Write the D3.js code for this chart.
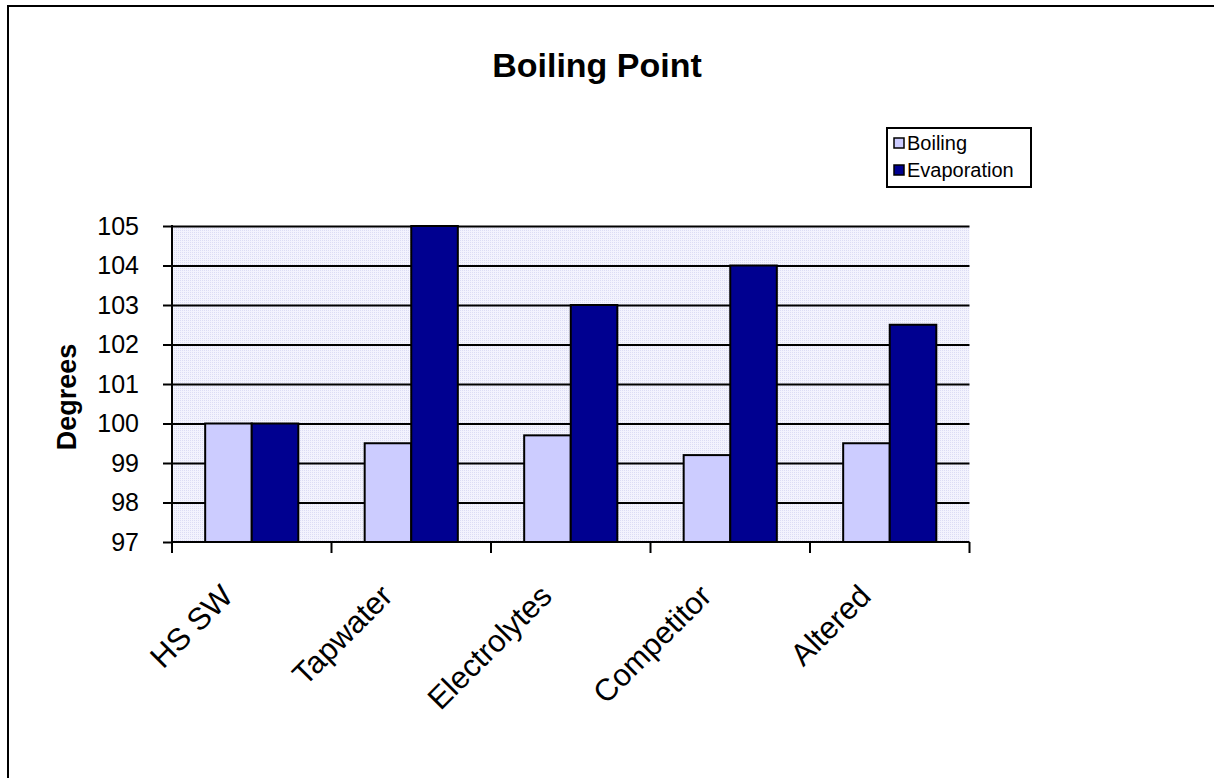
<!DOCTYPE html>
<html>
<head>
<meta charset="utf-8">
<script src="https://cdn.jsdelivr.net/npm/d3@7"></script>
<style>
  html, body { margin: 0; padding: 0; background: #fff; }
  svg { display: block; font-family: Arial, "Liberation Sans", sans-serif; }
</style>
</head>
<body>
<div id="chart"></div>
<script>
// --- Chart data ---
const categories = ["HS SW", "Tapwater", "Electrolytes", "Competitor", "Altered"];
const seriesNames = ["Boiling", "Evaporation"];
const boilingValues = [100, 99.5, 99.7, 99.2, 99.5];
const evaporationValues = [100, 105, 103, 104, 102.5];
const yTicks = [97, 98, 99, 100, 101, 102, 103, 104, 105];
const seriesColors = ["#ccccff", "#000090"];

// one row per category for the grouped bars
const rows = categories.map((c, i) => ({
  category: c,
  values: [boilingValues[i], evaporationValues[i]]
}));

const width = 1214;
const height = 778;

const svg = d3.select("#chart")
  .append("svg")
  .attr("width", width)
  .attr("height", height);

// outer frame (only top and left edges fall inside the picture)
svg.append("path")
  .attr("d", `M8,${height + 5}V6H${width + 5}`)
  .attr("fill", "none")
  .attr("stroke", "#000")
  .attr("stroke-width", 2);

// --- Plot area & scales ---
const plot = { left: 172, right: 969.5, top: 226, bottom: 542 };

const x0 = d3.scaleBand()
  .domain(categories)
  .range([plot.left, plot.right])
  .paddingInner(0.416)
  .paddingOuter(0.208);

const x1 = d3.scaleBand()
  .domain(seriesNames)
  .range([0, x0.bandwidth()]);

const y = d3.scaleLinear()
  .domain([97, 105])
  .range([plot.bottom, plot.top]);

// dotted lavender background like the original
const defs = svg.append("defs");
const pat = defs.append("pattern")
  .attr("id", "dots")
  .attr("width", 2)
  .attr("height", 2)
  .attr("patternUnits", "userSpaceOnUse");
pat.append("rect").attr("width", 2).attr("height", 2).attr("fill", "#f3f3fd");
pat.append("rect").attr("width", 1).attr("height", 1).attr("fill", "#dcdcf4");

svg.append("rect")
  .attr("x", plot.left)
  .attr("y", plot.top)
  .attr("width", plot.right - plot.left)
  .attr("height", plot.bottom - plot.top)
  .attr("fill", "url(#dots)");

// --- Gridlines ---
svg.append("g")
  .attr("class", "gridlines")
  .attr("transform", `translate(${plot.left},0)`)
  .call(d3.axisLeft(y).tickValues(yTicks.slice(1)).tickFormat("")
    .tickSize(-(plot.right - plot.left)).tickSizeOuter(0))
  .call(g => g.select(".domain").remove())
  .call(g => g.selectAll("line").attr("stroke", "#000").attr("stroke-width", 2));

// --- Bars ---
svg.append("g")
  .selectAll("g")
  .data(rows)
  .join("g")
  .attr("transform", d => `translate(${x0(d.category)},0)`)
  .selectAll("rect")
  .data(d => d.values.map((v, i) => ({ key: seriesNames[i], value: v, i })))
  .join("rect")
  .attr("x", d => x1(d.key))
  .attr("y", d => y(d.value))
  .attr("width", x1.bandwidth())
  .attr("height", d => y(97) - y(d.value))
  .attr("fill", d => seriesColors[d.i])
  .attr("stroke", "#000")
  .attr("stroke-width", 2);

// --- Y axis ---
const yAxis = svg.append("g")
  .attr("transform", `translate(${plot.left},0)`)
  .call(d3.axisLeft(y).tickValues(yTicks).tickSize(9).tickPadding(24).tickSizeOuter(0));
yAxis.select(".domain").remove();
yAxis.selectAll("line").attr("stroke", "#000").attr("stroke-width", 2);
yAxis.selectAll("text")
  .attr("font-size", 25)
  .attr("font-family", "Arial, 'Liberation Sans', sans-serif")
  .attr("fill", "#000");

svg.append("line")
  .attr("x1", plot.left).attr("x2", plot.left)
  .attr("y1", plot.top - 1).attr("y2", plot.bottom + 11)
  .attr("stroke", "#000").attr("stroke-width", 2);

// --- X axis: ticks at category boundaries ---
const boundaries = categories.map(c => x0(c) - x0.step() * x0.paddingOuter());
boundaries.push(plot.right);

svg.append("line")
  .attr("x1", plot.left).attr("x2", plot.right)
  .attr("y1", plot.bottom).attr("y2", plot.bottom)
  .attr("stroke", "#000").attr("stroke-width", 2);

svg.append("g")
  .selectAll("line")
  .data(boundaries)
  .join("line")
  .attr("x1", d => d).attr("x2", d => d)
  .attr("y1", plot.bottom).attr("y2", plot.bottom + 11)
  .attr("stroke", "#000").attr("stroke-width", 2);

// rotated category labels
svg.append("g")
  .selectAll("text")
  .data(categories)
  .join("text")
  .attr("transform", d => `translate(${x0(d) + x0.bandwidth() / 2 - 17},${plot.bottom + 56}) rotate(-45)`)
  .attr("text-anchor", "end")
  .attr("font-size", 31)
  .text(d => d);

// --- Titles ---
svg.append("text")
  .attr("x", 597)
  .attr("y", 77)
  .attr("text-anchor", "middle")
  .attr("font-size", 34)
  .attr("font-weight", "bold")
  .text("Boiling Point");

svg.append("text")
  .attr("transform", "translate(76,397) rotate(-90)")
  .attr("text-anchor", "middle")
  .attr("font-size", 27)
  .attr("font-weight", "bold")
  .text("Degrees");

// --- Legend ---
const legend = { x: 887, y: 128, w: 144, h: 59 };
const lg = svg.append("g");
lg.append("rect")
  .attr("x", legend.x).attr("y", legend.y)
  .attr("width", legend.w).attr("height", legend.h)
  .attr("fill", "#fff").attr("stroke", "#000").attr("stroke-width", 2);

const items = lg.selectAll("g")
  .data(seriesNames)
  .join("g")
  .attr("transform", (d, i) => `translate(${legend.x + 7},${legend.y + 15 + i * 27})`);

items.append("rect")
  .attr("x", 0).attr("y", -5)
  .attr("width", 10).attr("height", 10)
  .attr("fill", (d, i) => seriesColors[i])
  .attr("stroke", "#000").attr("stroke-width", 1.5);

items.append("text")
  .attr("x", 13)
  .attr("dy", "0.35em")
  .attr("font-size", 20)
  .text(d => d);
</script>
</body>
</html>
